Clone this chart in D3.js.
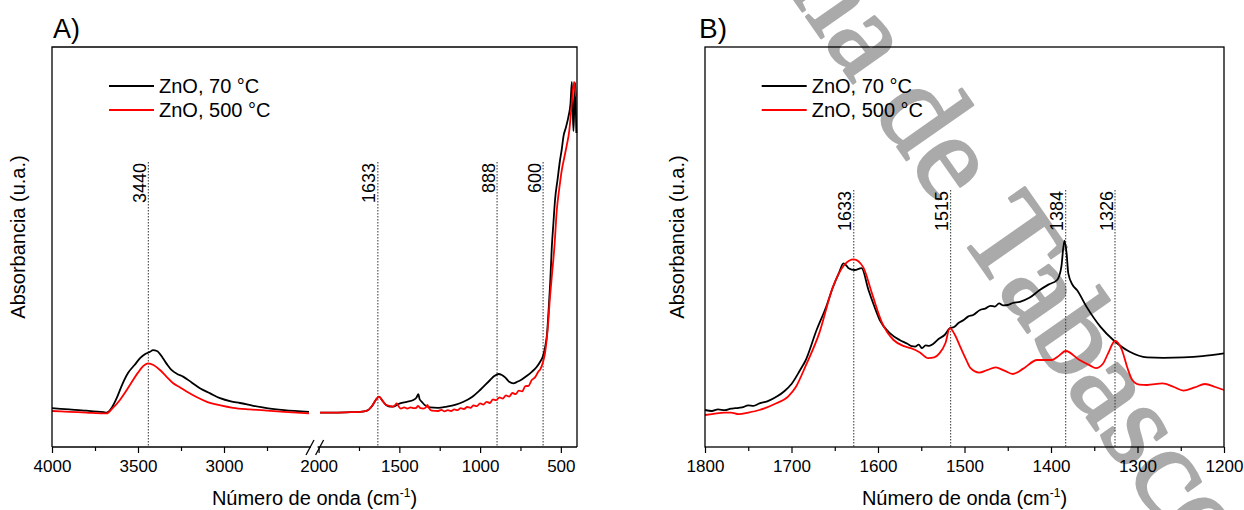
<!DOCTYPE html>
<html><head><meta charset="utf-8">
<script src="https://cdn.jsdelivr.net/npm/d3@7"></script>
<style>
body{margin:0;background:#fff}
svg{display:block}
</style>
</head><body>
<svg id="chart" width="1244" height="510" font-family="'Liberation Sans', Arial, sans-serif"></svg>
<script>
// ---------------- DATA ----------------
const seriesNames = ["ZnO, 70 °C", "ZnO, 500 °C"];
const seriesColors = ["#000000", "#ff0000"];

// Panel A, left segment (4000-2500 cm-1)
const aLeftWave70 = [4000,3900,3800,3700,3682,3650,3624,3590,3558,3520,3488,3460,3430,3413,3390,3355,3330,3304,3270,3238,3190,3140,3080,3023,2960,2907,2830,2752,2650,2506];
const aLeftAbs70  = [9.7,9.4,9.1,8.7,8.6,10.0,12.2,15.8,18.5,20.5,22.2,23.2,23.8,24.2,24.0,22.2,20.6,19.2,18.2,17.6,16.2,14.7,13.4,12.2,11.4,11.0,10.3,9.7,9.2,8.8];
const aLeftWave500 = [4000,3900,3800,3700,3682,3650,3605,3575,3547,3500,3470,3442,3410,3372,3335,3297,3255,3215,3160,3099,3020,2948,2850,2750,2650,2506];
const aLeftAbs500  = [9.0,8.8,8.6,8.4,8.4,9.6,11.75,13.6,15.5,18.6,20.2,20.9,20.5,19.25,17.6,16.0,14.9,13.8,12.5,11.3,10.4,9.8,9.4,9.1,8.8,8.4];

// Panel A, right segment (2000-400 cm-1)
const aRightWave70 = [1991,1900,1800,1744,1700,1670,1645,1626,1605,1582,1560,1537,1516,1496,1454,1413,1395,1382,1375,1361,1340,1310,1260,1206,1150,1103,1050,1000,938,910,886,865,845,820,794,770,742,710,680,650,628,610,597,585,577,566,556,546,536,520,505,494,484,468,453,440,432,427,422,416,411,407,404];
const aRightAbs70  = [8.6,8.6,8.7,8.8,9.1,10.2,11.8,12.6,11.6,10.5,10.1,10.1,10.5,10.9,11.3,11.75,12.3,13.2,12.0,11.3,10.4,9.9,9.8,10.1,10.6,11.3,12.5,14.25,16.75,17.8,18.25,18.0,17.4,16.3,15.9,16.3,16.9,17.8,18.8,20.0,21.3,22.8,25.1,28.5,33.4,41,50,56,61.75,67,71.75,74.5,77.6,80,82.6,86,91.3,85,79,86,91,84,78.5];
const aRightWave500 = [1991,1900,1800,1744,1700,1670,1645,1626,1605,1582,1560,1540,1528,1516,1505,1490,1470,1450,1430,1410,1395,1384,1370,1350,1336,1326,1315,1300,1260,1240,1220,1200,1180,1160,1140,1120,1100,1080,1060,1040,1020,1000,980,960,940,920,900,880,860,840,820,800,780,760,740,720,700,680,660,640,625,610,598,590,577,570,556,540,525,510,494,478,463,448,432,418,411,405];
const aRightAbs500  = [8.6,8.6,8.7,8.8,9.1,10.2,11.8,12.6,11.6,10.5,10.3,10.1,10.4,10.9,10.2,9.6,9.9,9.6,9.9,9.7,9.8,10.3,9.7,9.6,9.9,10.5,9.6,9.1,9.0,9.3,8.9,9.2,9.0,9.4,9.2,9.7,9.5,10.0,9.8,10.4,10.2,10.9,10.6,11.3,11.0,11.9,11.7,12.4,12.1,12.9,12.6,13.5,13.2,14.1,13.9,15.2,15.3,16.75,17.4,18.8,19.6,21.3,23.5,26,31.75,36,42.6,50,59.25,64.5,69.25,72.5,75.5,79,86,91.3,89,87.6];

// Panel B (1800-1200 cm-1)
const bWave70 = [1800,1792,1785,1777,1770,1765,1757,1750,1744,1737,1728,1717,1708,1700,1690,1684,1671,1660,1652,1645,1640,1636,1634,1627,1619,1611,1604,1598,1586,1575,1566,1561,1557,1553,1549,1545,1541,1536,1530,1523,1517,1512,1507,1501,1496,1490,1482,1476,1470,1465,1460,1455,1450,1444,1436,1425,1413,1403,1393,1388,1384.5,1382,1380,1375,1370,1359,1343,1328,1309,1289,1270,1247,1225,1200];
const bAbs70  = [9.25,9.0,9.4,9.2,9.6,9.7,9.9,10.4,10.3,10.9,11.4,12.6,14.0,15.75,19.25,21.5,29.25,35.0,40.0,43.6,45.9,45.2,44.7,44.25,44.7,39.25,35.0,31.75,28.4,26.75,25.8,25.2,25.1,25.6,24.7,25.4,25.3,25.8,27.0,28.0,29.7,30.0,31.0,31.75,32.6,33.0,34.25,34.6,35.3,35.1,35.9,35.4,35.5,36.0,36.3,37.3,39.25,40.6,41.75,45.1,51.6,48.5,43.4,40.5,39.25,35.1,30.1,26.75,23.8,22.4,22.3,22.4,22.7,23.4];
const bWave500 = [1800,1790,1778,1770,1761,1750,1737,1720,1704,1695,1684,1668,1652,1639,1628,1617,1607,1595,1582,1570,1562,1552,1542,1535,1529,1522,1517,1511,1505,1498,1493,1483,1474,1464,1454,1444,1432,1416,1399,1392,1383,1367,1355,1348,1340,1334,1326,1318,1312,1306,1298,1289,1271,1258,1247,1234,1222,1210,1200];
const bAbs500  = [8.0,8.3,8.6,8.6,8.2,8.6,9.25,10.7,12.6,15.0,20.1,28.4,40.1,45.5,46.9,44.9,38.4,30.9,26.75,25.2,24.7,23.7,22.2,22.4,23.4,26.0,29.7,28.0,25.1,21.8,19.7,18.6,19.2,19.9,19.1,18.25,19.6,21.75,21.75,22.6,24.0,21.75,20.4,19.7,20.8,23.4,26.5,24.25,20.0,16.75,15.6,15.5,15.9,15.0,14.1,14.9,15.75,15.0,14.25];

// Ticks and peak markers
const aLeftMajor = [4000,3500,3000];
const aLeftMinor = [3750,3250,2750];
const aRightMajor = [2000,1500,1000,500];
const aRightMinor = [1750,1250,750];
const bMajor = [1800,1700,1600,1500,1400,1300,1200];
const bMinor = [1750,1650,1550,1450,1350,1250];
const aPeakLabels = ["3440","1633","888","600"];
const aPeakPos = [3440,1633,895,610];
const bPeakLabels = ["1633","1515","1384","1326"];
const bPeakPos = [1628,1516,1383,1326];

const panelLabels = ["A)","B)"];
const xTitle = "Número de onda (cm";
const yTitle = "Absorbancia (u.a.)";
const watermarkHead = "Universidad Juárez Autónoma de\u00a0";
const watermarkTail = "Tabasco";

// ---------------- LAYOUT ----------------
const svg = d3.select("#chart");
const A = {l:52, r:577, t:47, b:447, breakL:310, breakR:318.6};
const B = {l:705, r:1224, t:47, b:447};
const SERIF = "'Liberation Serif', 'Times New Roman', 'DejaVu Serif', serif";

const yA = d3.scaleLinear().domain([0,100]).range([A.b, A.t]);
const yB = d3.scaleLinear().domain([0,100]).range([B.b, B.t]);
const xALeft = d3.scaleLinear().domain([4000,2500]).range([A.l, A.breakL]);
const xARight = d3.scaleLinear().domain([2000,400]).range([A.breakR, A.r]);
const xB = d3.scaleLinear().domain([1800,1200]).range([B.l, B.r]);
const xA = w => (w > 2250 ? xALeft(w) : xARight(w));

svg.append("rect").attr("width",1244).attr("height",510).attr("fill","#fff");

// watermark (under everything)
const wm = svg.append("g").attr("transform","translate(957,232) rotate(55)")
  .attr("fill","#aaaaaa").attr("stroke","#aaaaaa").attr("stroke-width",2.5).attr("stroke-linejoin","round");
wm.append("text").attr("text-anchor","end").style("font-family",SERIF)
  .attr("font-size",124)
  .attr("textLength",1687).attr("lengthAdjust","spacingAndGlyphs").text(watermarkHead);
wm.append("text").attr("text-anchor","start").style("font-family",SERIF)
  .attr("font-size",124)
  .attr("textLength",413).attr("lengthAdjust","spacingAndGlyphs").text(watermarkTail);

const zip = (w,v) => w.map((d,i)=>[d, v[i]]);

function drawCurve(xs, ys, w, v, color){
  svg.append("path").datum(zip(w,v))
    .attr("d", d3.line().curve(d3.curveMonotoneX).x(d=>xs(d[0])).y(d=>ys(d[1])))
    .attr("fill","none").attr("stroke",color).attr("stroke-width",1.8)
    .attr("stroke-linejoin","round");
}

function axisBottom(scale, majors, minors, y){
  const gMaj = svg.append("g").attr("transform",`translate(0,${y})`)
    .call(d3.axisBottom(scale).tickValues(majors).tickFormat(d3.format("d"))
      .tickSize(6).tickPadding(7).tickSizeOuter(0));
  gMaj.attr("font-size",17).attr("font-family",null);
  gMaj.select(".domain").remove();
  gMaj.selectAll("line").attr("stroke","#000").attr("stroke-width",1.2);
  gMaj.selectAll("text").attr("fill","#000");
  const gMin = svg.append("g").attr("transform",`translate(0,${y})`)
    .call(d3.axisBottom(scale).tickValues(minors).tickSize(4).tickFormat("").tickSizeOuter(0));
  gMin.select(".domain").remove();
  gMin.selectAll("line").attr("stroke","#000").attr("stroke-width",1.2);
}

function peakLines(xs, positions, labels, top, bottom){
  positions.forEach((p,i)=>{
    const x = xs(p);
    svg.append("line").attr("x1",x).attr("x2",x).attr("y1",top).attr("y2",bottom)
      .attr("stroke","#333").attr("stroke-width",1).attr("stroke-dasharray","1.5,1.5");
    svg.append("text").attr("transform",`translate(${x-2.5},${top+1}) rotate(-90)`)
      .attr("text-anchor","end").attr("font-size",18).attr("fill","#000").text(labels[i]);
  });
}

function legend(x0, y0){
  seriesNames.forEach((n,i)=>{
    const y = y0 + i*24;
    svg.append("line").attr("x1",x0).attr("x2",x0+45).attr("y1",y).attr("y2",y)
      .attr("stroke",seriesColors[i]).attr("stroke-width",1.8);
    svg.append("text").attr("x",x0+50).attr("y",y+7).attr("font-size",20).attr("fill","#000").text(n);
  });
}

function titles(cx, yTitleX){
  const t = svg.append("text").attr("x",cx).attr("y",505).attr("text-anchor","middle")
    .attr("font-size",20).attr("fill","#000");
  t.append("tspan").text(xTitle);
  t.append("tspan").attr("font-size",12).attr("dy",-8).text("-1");
  t.append("tspan").attr("dy",8).text(")");
  svg.append("text").attr("transform",`translate(${yTitleX},237) rotate(-90)`)
    .attr("text-anchor","middle").attr("font-size",20).attr("fill","#000").text(yTitle);
}

// ---------------- PANEL A ----------------
peakLines(xA, aPeakPos, aPeakLabels, 162, A.b);
drawCurve(xALeft, yA, aLeftWave70, aLeftAbs70, seriesColors[0]);
drawCurve(xALeft, yA, aLeftWave500, aLeftAbs500, seriesColors[1]);
drawCurve(xARight, yA, aRightWave70, aRightAbs70, seriesColors[0]);
drawCurve(xARight, yA, aRightWave500, aRightAbs500, seriesColors[1]);

axisBottom(xALeft, aLeftMajor, aLeftMinor, A.b);
axisBottom(xARight, aRightMajor, aRightMinor, A.b);

const frameA = svg.append("g").attr("stroke","#000").attr("stroke-width",1.3).attr("fill","none");
frameA.append("path").attr("d",`M${A.l},${A.b}V${A.t}H${A.r}V${A.b}`);
frameA.append("line").attr("x1",A.l).attr("x2",A.breakL+1).attr("y1",A.b).attr("y2",A.b);
frameA.append("line").attr("x1",A.breakR-1).attr("x2",A.r).attr("y1",A.b).attr("y2",A.b);
frameA.append("line").attr("x1",A.breakL-4).attr("y1",A.b+8).attr("x2",A.breakL+4).attr("y2",A.b-7);
frameA.append("line").attr("x1",A.breakR-3).attr("y1",A.b+8).attr("x2",A.breakR+5).attr("y2",A.b-7);

legend(109, 86);
titles((A.l+A.r)/2, 25);
svg.append("text").attr("x",53).attr("y",38).attr("font-size",27).attr("fill","#000").text(panelLabels[0]);

// ---------------- PANEL B ----------------
peakLines(xB, bPeakPos, bPeakLabels, 190, B.b);
drawCurve(xB, yB, bWave70, bAbs70, seriesColors[0]);
drawCurve(xB, yB, bWave500, bAbs500, seriesColors[1]);
axisBottom(xB, bMajor, bMinor, B.b);
svg.append("rect").attr("x",B.l).attr("y",B.t).attr("width",B.r-B.l).attr("height",B.b-B.t)
  .attr("fill","none").attr("stroke","#000").attr("stroke-width",1.3);
legend(761.7, 86);
titles((B.l+B.r)/2, 684);
svg.append("text").attr("x",699).attr("y",38).attr("font-size",28).attr("fill","#000").text(panelLabels[1]);
</script>
</body></html>
